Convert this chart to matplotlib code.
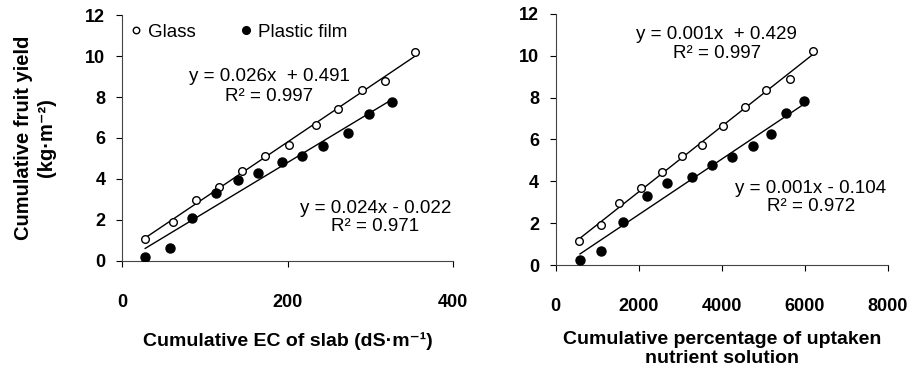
import matplotlib
matplotlib.use("Agg")
import matplotlib.pyplot as plt
import numpy as np

plt.rcParams['font.family'] = ['Liberation Sans', 'DejaVu Sans']

# cumulative fruit yield (kg m-2), same harvests in both panels
glass_ec = [28, 61, 89, 117, 145, 173, 202, 234, 261, 290, 318, 354]
glass_yield = [1.09, 1.90, 2.95, 3.62, 4.38, 5.14, 5.68, 6.62, 7.43, 8.35, 8.79, 10.19]
film_ec = [28, 58, 85, 114, 140, 164, 193, 218, 243, 273, 299, 326]
film_yield = [0.21, 0.65, 2.11, 3.33, 3.94, 4.28, 4.84, 5.12, 5.63, 6.25, 7.17, 7.78]

glass_pct = [561, 1098, 1523, 2044, 2565, 3046, 3511, 4032, 4553, 5074, 5635, 6188]
glass_yield2 = [1.14, 1.92, 2.97, 3.69, 4.45, 5.20, 5.72, 6.63, 7.55, 8.38, 8.90, 10.24]
film_pct = [585, 1098, 1628, 2205, 2686, 3271, 3768, 4248, 4753, 5186, 5547, 5972]
film_yield2 = [0.22, 0.67, 2.07, 3.32, 3.93, 4.21, 4.80, 5.15, 5.68, 6.26, 7.27, 7.85]

left_eqs = ["y = 0.026x  + 0.491\nR² = 0.997", "y = 0.024x - 0.022\nR² = 0.971"]
right_eqs = ["y = 0.001x  + 0.429\nR² = 0.997", "y = 0.001x - 0.104\nR² = 0.972"]

fig = plt.figure(figsize=(9.08, 3.76), dpi=100)
ax1 = fig.add_axes([0.1344, 0.306, 0.3645, 0.654])
ax2 = fig.add_axes([0.612, 0.295, 0.366, 0.668])


def draw(ax, xg, yg, xf, yf):
    for x, y in [(xg, yg), (xf, yf)]:
        x = np.array(x)
        k, b = np.polyfit(x, y, 1)
        xs = np.array([x.min(), x.max()])
        ax.plot(xs, k * xs + b, color="black", lw=1.0, zorder=1)
    ax.plot(xg, yg, "o", mfc="white", mec="black", mew=1.0, ms=5.5, label="Glass", zorder=3)
    ax.plot(xf, yf, "o", mfc="black", mec="black", ms=6.5, label="Plastic film", zorder=3)
    ax.set_ylim(0, 12)
    ax.set_yticks(range(0, 13, 2))
    for s in ["top", "right"]:
        ax.spines[s].set_visible(False)
    for s in ["left", "bottom"]:
        ax.spines[s].set_color("#444444")
    ax.tick_params(axis="x", direction="out", length=4, pad=20, labelsize=13)
    ax.tick_params(axis="y", direction="out", length=4, pad=8, labelsize=13)


draw(ax1, glass_ec, glass_yield, film_ec, film_yield)
ax1.set_xlim(0, 400)
ax1.set_xticks([0, 200, 400])
ax1.set_xlabel("Cumulative EC of slab (dS·m⁻¹)", fontsize=14, fontweight="bold", labelpad=15)
ax1.set_ylabel("Cumulative fruit yield\n(kg·m⁻²)", fontsize=14.5, fontweight="bold", labelpad=21,
               linespacing=1.3)
ax1.text(178, 8.52, left_eqs[0], ha="center", va="center", fontsize=13.5, linespacing=1.2)
ax1.text(306, 2.12, left_eqs[1], ha="center", va="center", fontsize=13.5, linespacing=1.1)
ax1.legend(loc="center left", ncol=2, frameon=False, fontsize=13.5, handletextpad=0.3,
           handlelength=0.7, columnspacing=2.3, borderaxespad=0.0, markerscale=0.85,
           bbox_to_anchor=(0.0, 0.93))

draw(ax2, glass_pct, glass_yield2, film_pct, film_yield2)
ax2.set_xlim(0, 8000)
ax2.set_xticks(range(0, 8001, 2000))
ax2.set_xlabel("Cumulative percentage of uptaken\nnutrient solution", fontsize=14, fontweight="bold",
               labelpad=11, linespacing=1.2)
ax2.text(3880, 10.57, right_eqs[0], ha="center", va="center", fontsize=13.5, linespacing=1.2)
ax2.text(6145, 3.24, right_eqs[1], ha="center", va="center", fontsize=13.5, linespacing=1.1)

for ax in (ax1, ax2):
    for lab in ax.get_xticklabels() + ax.get_yticklabels():
        lab.set_fontweight("bold")

fig.savefig("out.png", dpi=100)
